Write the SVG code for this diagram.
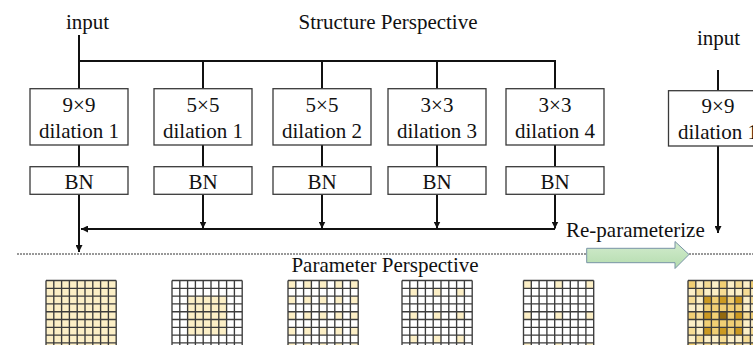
<svg xmlns="http://www.w3.org/2000/svg" xmlns:xlink="http://www.w3.org/1999/xlink" width="753" height="345" viewBox="0 0 753 345">
  <style>
    text { font-family: "Liberation Serif", "Times New Roman", serif; font-size: 21px; fill: #111; }
    .c { text-anchor: middle; }
    .box { fill: #fff; stroke: #3a3a3a; stroke-width: 1.3; }
    .wire { fill: none; stroke: #111; stroke-width: 2; }
    .grid { fill: none; stroke: #3c3c3c; stroke-width: 1.35; }
    .y1 { fill: #fcefc6; }
    .y2 { fill: #f6dc94; }
    .y3 { fill: #f1cf74; }
    .y4 { fill: #cc9a22; }
    .y6 { fill: #93690f; }
  </style>
  <defs>
    <marker id="arr" viewBox="0 0 10 10" refX="10" refY="5" markerUnits="userSpaceOnUse" markerWidth="7" markerHeight="7" orient="auto">
      <path d="M0 0L10 5L0 10Z" fill="#111"/>
    </marker>
    <linearGradient id="green" x1="0" y1="0" x2="0" y2="1">
      <stop offset="0" stop-color="#d3ecce"/>
      <stop offset="1" stop-color="#b4dcae"/>
    </linearGradient>
    <!-- 9x9 kernel grid, cell 7.8 px -->
    <path id="gridlines" class="grid" d="M0 0V70.2M7.8 0V70.2M15.6 0V70.2M23.4 0V70.2M31.2 0V70.2M39 0V70.2M46.8 0V70.2M54.6 0V70.2M62.4 0V70.2M70.2 0V70.2M0 0H70.2M0 7.8H70.2M0 15.6H70.2M0 23.4H70.2M0 31.2H70.2M0 39H70.2M0 46.8H70.2M0 54.6H70.2M0 62.4H70.2M0 70.2H70.2"/>
    <rect id="cell" width="7.8" height="7.8"/>
  </defs>

  <rect width="753" height="345" fill="#fff"/>

  <!-- titles -->
  <text id="title-structure" class="c" x="388" y="29">Structure Perspective</text>
  <text id="title-parameter" class="c" x="385" y="272">Parameter Perspective</text>

  <!-- perspective divider -->
  <line x1="17" y1="254" x2="753" y2="254" stroke="#333" stroke-width="1" stroke-dasharray="2 1"/>

  <!-- connectors -->
  <g id="connectors">
    <path class="wire" d="M79 35V88.7M79 61H555V88.7M203 61V88.7M322 61V88.7M437 61V88.7"/>
    <path class="wire" d="M79 145V166.7M203 145V166.7M322 145V166.7M437 145V166.7M555 145V166.7"/>
    <path class="wire" d="M79 194.3V252" marker-end="url(#arr)"/>
    <path class="wire" d="M203 194.3V228.5" marker-end="url(#arr)"/>
    <path class="wire" d="M322 194.3V228.5" marker-end="url(#arr)"/>
    <path class="wire" d="M437 194.3V228.5" marker-end="url(#arr)"/>
    <path class="wire" d="M555 194.3V228.5" marker-end="url(#arr)"/>
    <path class="wire" d="M555 229H81" marker-end="url(#arr)"/>
    <path class="wire" d="M718 70V90.7"/>
    <path class="wire" d="M718 146V233" marker-end="url(#arr)"/>
  </g>

  <!-- structure nodes -->
  <text id="input-left" class="c" x="87.5" y="29">input</text>
  <g id="branch-9x9-d1">
    <rect class="box" x="30" y="88.7" width="98" height="56.3"/>
    <text class="c" x="79" y="112">9×9</text>
    <text class="c" x="79" y="138">dilation 1</text>
  </g>
  <g id="bn-1">
    <rect class="box" x="30" y="166.7" width="98" height="27.6"/>
    <text class="c" x="79" y="189">BN</text>
  </g>
  <g id="branch-5x5-d1">
    <rect class="box" x="154" y="88.7" width="98" height="56.3"/>
    <text class="c" x="203" y="112">5×5</text>
    <text class="c" x="203" y="138">dilation 1</text>
  </g>
  <g id="bn-2">
    <rect class="box" x="154" y="166.7" width="98" height="27.6"/>
    <text class="c" x="203" y="189">BN</text>
  </g>
  <g id="branch-5x5-d2">
    <rect class="box" x="273" y="88.7" width="98" height="56.3"/>
    <text class="c" x="322" y="112">5×5</text>
    <text class="c" x="322" y="138">dilation 2</text>
  </g>
  <g id="bn-3">
    <rect class="box" x="273" y="166.7" width="98" height="27.6"/>
    <text class="c" x="322" y="189">BN</text>
  </g>
  <g id="branch-3x3-d3">
    <rect class="box" x="388" y="88.7" width="98" height="56.3"/>
    <text class="c" x="437" y="112">3×3</text>
    <text class="c" x="437" y="138">dilation 3</text>
  </g>
  <g id="bn-4">
    <rect class="box" x="388" y="166.7" width="98" height="27.6"/>
    <text class="c" x="437" y="189">BN</text>
  </g>
  <g id="branch-3x3-d4">
    <rect class="box" x="506" y="88.7" width="98" height="56.3"/>
    <text class="c" x="555" y="112">3×3</text>
    <text class="c" x="555" y="138">dilation 4</text>
  </g>
  <g id="bn-5">
    <rect class="box" x="506" y="166.7" width="98" height="27.6"/>
    <text class="c" x="555" y="189">BN</text>
  </g>

  <!-- re-parameterized single branch -->
  <text id="input-right" class="c" x="718.5" y="45">input</text>
  <g id="merged-9x9-d1">
    <rect class="box" x="668.5" y="90.7" width="100" height="55.3"/>
    <text class="c" x="718" y="113">9×9</text>
    <text class="c" x="718" y="139">dilation 1</text>
  </g>

  <g id="reparam">
    <text x="566" y="237">Re-parameterize</text>
    <polygon points="586.7,248.3 675,248.3 675,241.5 689,254.5 675,268.5 675,262.7 586.7,262.7" fill="url(#green)" stroke="#7893a6" stroke-width="1"/>
  </g>

  <!-- kernel weights: 9x9 dilation 1 -->
  <g id="kernel-1" transform="translate(46 280.5)">
    <rect class="y1" width="70.2" height="70.2"/>
    <use xlink:href="#gridlines"/>
  </g>

  <!-- kernel weights: 5x5 dilation 1 -->
  <g id="kernel-2" transform="translate(172 280.5)">
    <rect class="y1" x="15.6" y="15.6" width="39" height="39"/>
    <use xlink:href="#gridlines"/>
  </g>

  <!-- kernel weights: 5x5 dilation 2 -->
  <g id="kernel-3" transform="translate(288 280.5)" class="y1">
    <use xlink:href="#cell" x="0" y="0"/><use xlink:href="#cell" x="15.6" y="0"/><use xlink:href="#cell" x="31.2" y="0"/><use xlink:href="#cell" x="46.8" y="0"/><use xlink:href="#cell" x="62.4" y="0"/>
    <use xlink:href="#cell" x="0" y="15.6"/><use xlink:href="#cell" x="15.6" y="15.6"/><use xlink:href="#cell" x="31.2" y="15.6"/><use xlink:href="#cell" x="46.8" y="15.6"/><use xlink:href="#cell" x="62.4" y="15.6"/>
    <use xlink:href="#cell" x="0" y="31.2"/><use xlink:href="#cell" x="15.6" y="31.2"/><use xlink:href="#cell" x="31.2" y="31.2"/><use xlink:href="#cell" x="46.8" y="31.2"/><use xlink:href="#cell" x="62.4" y="31.2"/>
    <use xlink:href="#cell" x="0" y="46.8"/><use xlink:href="#cell" x="15.6" y="46.8"/><use xlink:href="#cell" x="31.2" y="46.8"/><use xlink:href="#cell" x="46.8" y="46.8"/><use xlink:href="#cell" x="62.4" y="46.8"/>
    <use xlink:href="#cell" x="0" y="62.4"/><use xlink:href="#cell" x="15.6" y="62.4"/><use xlink:href="#cell" x="31.2" y="62.4"/><use xlink:href="#cell" x="46.8" y="62.4"/><use xlink:href="#cell" x="62.4" y="62.4"/>
    <use xlink:href="#gridlines"/>
  </g>

  <!-- kernel weights: 3x3 dilation 3 -->
  <g id="kernel-4" transform="translate(402 280.5)" class="y1">
    <use xlink:href="#cell" x="7.8" y="7.8"/><use xlink:href="#cell" x="31.2" y="7.8"/><use xlink:href="#cell" x="54.6" y="7.8"/>
    <use xlink:href="#cell" x="7.8" y="31.2"/><use xlink:href="#cell" x="31.2" y="31.2"/><use xlink:href="#cell" x="54.6" y="31.2"/>
    <use xlink:href="#cell" x="7.8" y="54.6"/><use xlink:href="#cell" x="31.2" y="54.6"/><use xlink:href="#cell" x="54.6" y="54.6"/>
    <use xlink:href="#gridlines"/>
  </g>

  <!-- kernel weights: 3x3 dilation 4 -->
  <g id="kernel-5" transform="translate(523.5 280.5)" class="y1">
    <use xlink:href="#cell" x="0" y="0"/><use xlink:href="#cell" x="31.2" y="0"/><use xlink:href="#cell" x="62.4" y="0"/>
    <use xlink:href="#cell" x="0" y="31.2"/><use xlink:href="#cell" x="31.2" y="31.2"/><use xlink:href="#cell" x="62.4" y="31.2"/>
    <use xlink:href="#cell" x="0" y="62.4"/><use xlink:href="#cell" x="31.2" y="62.4"/><use xlink:href="#cell" x="62.4" y="62.4"/>
    <use xlink:href="#gridlines"/>
  </g>

  <!-- merged kernel: sum of all branches -->
  <g id="kernel-merged" transform="translate(688 280.5)">
    <rect class="y1" width="70.2" height="70.2"/>
    <rect class="y3" x="15.6" y="15.6" width="39" height="39"/>
    <g class="y2">
      <use xlink:href="#cell" x="15.6" y="0"/><use xlink:href="#cell" x="46.8" y="0"/>
      <use xlink:href="#cell" x="7.8" y="7.8"/><use xlink:href="#cell" x="31.2" y="7.8"/><use xlink:href="#cell" x="54.6" y="7.8"/>
      <use xlink:href="#cell" x="0" y="15.6"/><use xlink:href="#cell" x="62.4" y="15.6"/>
      <use xlink:href="#cell" x="7.8" y="31.2"/><use xlink:href="#cell" x="54.6" y="31.2"/>
      <use xlink:href="#cell" x="0" y="46.8"/><use xlink:href="#cell" x="62.4" y="46.8"/>
      <use xlink:href="#cell" x="7.8" y="54.6"/><use xlink:href="#cell" x="31.2" y="54.6"/><use xlink:href="#cell" x="54.6" y="54.6"/>
      <use xlink:href="#cell" x="15.6" y="62.4"/><use xlink:href="#cell" x="46.8" y="62.4"/>
    </g>
    <g class="y3">
      <use xlink:href="#cell" x="0" y="0"/><use xlink:href="#cell" x="31.2" y="0"/><use xlink:href="#cell" x="62.4" y="0"/>
      <use xlink:href="#cell" x="0" y="31.2"/><use xlink:href="#cell" x="62.4" y="31.2"/>
      <use xlink:href="#cell" x="0" y="62.4"/><use xlink:href="#cell" x="31.2" y="62.4"/><use xlink:href="#cell" x="62.4" y="62.4"/>
    </g>
    <g class="y4">
      <use xlink:href="#cell" x="15.6" y="15.6"/><use xlink:href="#cell" x="31.2" y="15.6"/><use xlink:href="#cell" x="46.8" y="15.6"/>
      <use xlink:href="#cell" x="15.6" y="31.2"/><use xlink:href="#cell" x="46.8" y="31.2"/>
      <use xlink:href="#cell" x="15.6" y="46.8"/><use xlink:href="#cell" x="31.2" y="46.8"/><use xlink:href="#cell" x="46.8" y="46.8"/>
    </g>
    <use class="y6" xlink:href="#cell" x="31.2" y="31.2"/>
    <use xlink:href="#gridlines"/>
  </g>
</svg>
